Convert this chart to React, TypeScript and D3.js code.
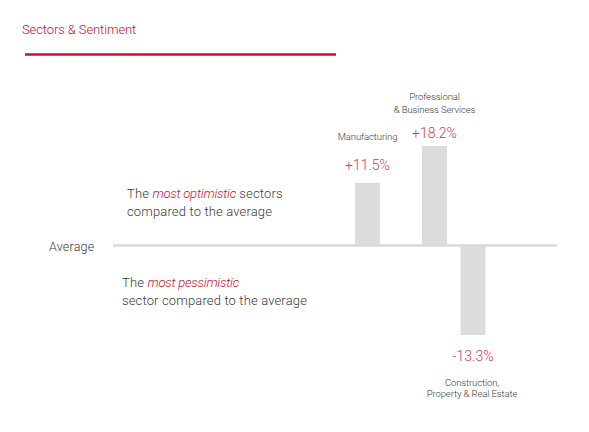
import * as d3 from 'd3';

const sectors = ['Manufacturing', 'Professional & Business Services', 'Construction, Property & Real Estate'];
const sectorLines = [['Manufacturing'], ['Professional', '& Business Services'], ['Construction,', 'Property & Real Estate']];
const values = [11.5, 18.2, -13.3];
const valueLabels = ['+11.5%', '+18.2%', '-13.3%'];

const width = 589;
const height = 432;
const red = '#c8102e';
const pink = '#d33a5a';
const ink = '#3a3a3a';
const font = 'Roboto, "Noto Sans", sans-serif';

// distance from bar end to value label, and from value label to sector name
const valueGap = [13, 8, 26];
const nameGap = [30, 25, 25];

export default function App() {
  const x = d3.scaleOrdinal<string, number>().domain(sectors).range([367.5, 434.5, 473]);
  const y = d3.scaleLinear().domain([-13.3, 0, 18.2]).range([335, 246, 146]);
  const barW = 25;

  const body = { fill: ink, fontSize: 13, fontWeight: 300, letterSpacing: 0.15 };
  const em = { fill: red, fontStyle: 'italic', letterSpacing: -0.2 };

  return (
    <svg width={width} height={height} style={{ position: 'absolute', left: 0, top: 0, background: '#fff' }} fontFamily={font}>
      <text x={22} y={34} fill={red} fontSize={13} fontWeight={300} letterSpacing={-0.1}>
        Sectors &amp; Sentiment
      </text>
      <line x1={25} x2={336} y1={54.5} y2={54.5} stroke={red} strokeWidth={2.6} />

      <text x={127} y={198} {...body}>
        The <tspan {...em}>most optimistic</tspan> sectors
      </text>
      <text x={127} y={216} {...body}>
        compared to the average
      </text>
      <text x={122} y={287} {...body}>
        The <tspan {...em}>most pessimistic</tspan>
      </text>
      <text x={122} y={305} {...body}>
        sector compared to the average
      </text>

      <text x={49} y={251} fill={ink} fontSize={12.5} fontWeight={300} letterSpacing={0.2}>
        Average
      </text>

      {sectors.map((s, i) => {
        const v = values[i];
        const top = Math.min(y(v), y(0));
        const h = Math.abs(y(v) - y(0));
        return <rect key={s} x={x(s) - barW / 2} y={top} width={barW} height={h} fill="#dcdcdc" />;
      })}
      <line x1={113} x2={557} y1={245.5} y2={245.5} stroke="#d9d9d9" strokeWidth={2.5} />

      {sectors.map((s, i) => {
        const v = values[i];
        const pos = v >= 0;
        const n = sectorLines[i].length;
        const labelY = pos ? y(v) - valueGap[i] : y(v) + valueGap[i];
        const step = pos ? 13 : 11;
        const nameBase = pos ? labelY - nameGap[i] - (n - 1) * step : labelY + nameGap[i];
        return (
          <g key={s} textAnchor="middle">
            <text x={x(s)} y={labelY} fill={pink} fontSize={14} fontWeight={300}>
              {valueLabels[i]}
            </text>
            {sectorLines[i].map((ln, j) => (
              <text key={ln} x={x(s) + (pos ? 0 : -1)} y={nameBase + j * step} fill={ink} fontSize={9.5} fontWeight={300} letterSpacing={-0.1}>
                {ln}
              </text>
            ))}
          </g>
        );
      })}
    </svg>
  );
}
